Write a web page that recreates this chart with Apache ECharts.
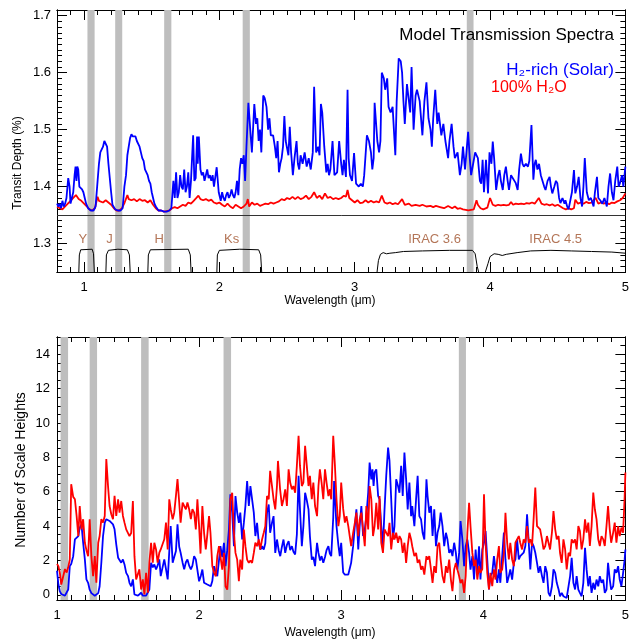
<!DOCTYPE html>
<html>
<head>
<meta charset="utf-8">
<script src="https://cdn.jsdelivr.net/npm/echarts@6/dist/echarts.min.js"></script>
<style>
  html, body { margin: 0; padding: 0; background: #fff; }
  #chart { width: 632px; height: 644px; }
</style>
</head>
<body>
<div id="chart"></div>
<script>
// --- top panel: transit depth (%) vs wavelength (um)
const topH2 = [[0.80,1.37],[0.81,1.365],[0.82,1.37],[0.83,1.362],[0.84,1.375],[0.85,1.365],[0.86,1.37],[0.87,1.38],[0.883,1.415],[0.893,1.40],[0.90,1.37],[0.91,1.372],[0.92,1.39],[0.93,1.42],[0.937,1.435],[0.944,1.41],[0.95,1.435],[0.957,1.43],[0.965,1.40],[0.975,1.40],[0.985,1.395],[0.995,1.39],[1.005,1.38],[1.015,1.37],[1.03,1.362],[1.05,1.358],[1.07,1.358],[1.085,1.365],[1.10,1.41],[1.11,1.44],[1.12,1.46],[1.13,1.458],[1.14,1.47],[1.15,1.48],[1.16,1.483],[1.17,1.47],[1.18,1.44],[1.19,1.415],[1.20,1.39],[1.21,1.368],[1.23,1.36],[1.25,1.358],[1.27,1.358],[1.285,1.362],[1.298,1.40],[1.31,1.42],[1.32,1.455],[1.33,1.47],[1.34,1.485],[1.35,1.492],[1.36,1.488],[1.37,1.49],[1.38,1.488],[1.39,1.48],[1.40,1.478],[1.41,1.47],[1.42,1.46],[1.43,1.45],[1.44,1.445],[1.45,1.43],[1.46,1.432],[1.47,1.42],[1.48,1.41],[1.49,1.405],[1.50,1.39],[1.51,1.38],[1.52,1.37],[1.53,1.365],[1.55,1.358],[1.57,1.358],[1.59,1.356],[1.61,1.356],[1.63,1.358],[1.645,1.362],[1.66,1.41],[1.67,1.38],[1.68,1.425],[1.69,1.38],[1.70,1.39],[1.71,1.42],[1.72,1.40],[1.73,1.395],[1.74,1.43],[1.75,1.39],[1.76,1.40],[1.77,1.425],[1.78,1.38],[1.79,1.41],[1.806,1.49],[1.815,1.41],[1.825,1.415],[1.835,1.488],[1.84,1.44],[1.848,1.488],[1.86,1.43],[1.87,1.42],[1.88,1.425],[1.89,1.41],[1.90,1.42],[1.91,1.43],[1.92,1.415],[1.93,1.42],[1.94,1.41],[1.95,1.42],[1.96,1.40],[1.98,1.434],[1.995,1.39],[2.01,1.375],[2.02,1.39],[2.03,1.38],[2.04,1.375],[2.05,1.385],[2.06,1.39],[2.07,1.38],[2.08,1.385],[2.09,1.395],[2.10,1.385],[2.11,1.38],[2.12,1.39],[2.13,1.41],[2.14,1.385],[2.15,1.43],[2.16,1.45],[2.17,1.44],[2.18,1.455],[2.19,1.41],[2.20,1.47],[2.214,1.547],[2.226,1.545],[2.24,1.46],[2.258,1.545],[2.27,1.51],[2.28,1.52],[2.29,1.48],[2.30,1.50],[2.31,1.46],[2.324,1.56],[2.335,1.555],[2.348,1.54],[2.36,1.50],[2.37,1.52],[2.38,1.49],[2.397,1.49],[2.41,1.47],[2.42,1.45],[2.43,1.48],[2.44,1.425],[2.45,1.44],[2.46,1.45],[2.47,1.47],[2.48,1.524],[2.49,1.48],[2.51,1.455],[2.52,1.505],[2.53,1.46],[2.543,1.42],[2.555,1.45],[2.57,1.48],[2.58,1.44],[2.59,1.43],[2.60,1.455],[2.615,1.44],[2.63,1.46],[2.645,1.435],[2.66,1.45],[2.675,1.43],[2.69,1.46],[2.70,1.575],[2.715,1.46],[2.73,1.47],[2.74,1.455],[2.75,1.545],[2.76,1.53],[2.775,1.47],[2.79,1.425],[2.80,1.44],[2.81,1.42],[2.82,1.43],[2.836,1.48],[2.85,1.42],[2.87,1.425],[2.885,1.48],[2.90,1.44],[2.91,1.42],[2.92,1.447],[2.935,1.417],[2.947,1.57],[2.955,1.45],[2.965,1.42],[2.98,1.41],[2.995,1.459],[3.01,1.405],[3.03,1.40],[3.045,1.405],[3.06,1.40],[3.07,1.42],[3.08,1.42],[3.09,1.49],[3.105,1.48],[3.12,1.46],[3.13,1.43],[3.14,1.45],[3.147,1.547],[3.167,1.48],[3.18,1.46],[3.19,1.48],[3.20,1.60],[3.215,1.59],[3.225,1.57],[3.24,1.59],[3.25,1.54],[3.265,1.53],[3.28,1.54],[3.30,1.455],[3.31,1.55],[3.325,1.625],[3.34,1.62],[3.35,1.60],[3.36,1.55],[3.37,1.51],[3.386,1.58],[3.40,1.58],[3.41,1.53],[3.42,1.61],[3.435,1.50],[3.45,1.56],[3.46,1.57],[3.48,1.55],[3.50,1.49],[3.515,1.55],[3.53,1.583],[3.545,1.52],[3.56,1.50],[3.57,1.47],[3.58,1.52],[3.595,1.57],[3.61,1.51],[3.62,1.53],[3.64,1.49],[3.655,1.51],[3.67,1.48],[3.69,1.45],[3.70,1.48],[3.716,1.51],[3.73,1.47],[3.74,1.45],[3.76,1.46],[3.777,1.42],[3.79,1.44],[3.80,1.47],[3.815,1.43],[3.838,1.496],[3.85,1.45],[3.86,1.42],[3.875,1.44],[3.89,1.46],[3.91,1.45],[3.925,1.41],[3.935,1.405],[3.945,1.447],[3.955,1.39],[3.97,1.447],[3.985,1.388],[3.996,1.46],[4.01,1.44],[4.02,1.479],[4.03,1.45],[4.045,1.394],[4.06,1.42],[4.07,1.429],[4.08,1.41],[4.094,1.394],[4.105,1.42],[4.117,1.435],[4.13,1.41],[4.14,1.394],[4.155,1.42],[4.167,1.423],[4.18,1.41],[4.19,1.406],[4.204,1.394],[4.215,1.43],[4.228,1.458],[4.24,1.44],[4.25,1.435],[4.265,1.44],[4.28,1.435],[4.29,1.445],[4.306,1.508],[4.32,1.412],[4.33,1.44],[4.338,1.447],[4.35,1.43],[4.362,1.44],[4.375,1.42],[4.387,1.423],[4.40,1.40],[4.41,1.394],[4.425,1.41],[4.44,1.417],[4.45,1.40],[4.46,1.388],[4.475,1.40],[4.487,1.41],[4.497,1.406],[4.51,1.38],[4.52,1.371],[4.535,1.38],[4.55,1.37],[4.557,1.376],[4.57,1.365],[4.58,1.36],[4.594,1.36],[4.605,1.39],[4.62,1.429],[4.63,1.388],[4.643,1.40],[4.655,1.417],[4.668,1.38],[4.68,1.365],[4.69,1.40],[4.70,1.45],[4.715,1.39],[4.73,1.376],[4.745,1.38],[4.765,1.365],[4.775,1.39],[4.79,1.417],[4.80,1.38],[4.814,1.376],[4.83,1.37],[4.845,1.38],[4.863,1.365],[4.875,1.40],[4.887,1.423],[4.90,1.39],[4.912,1.376],[4.925,1.41],[4.94,1.435],[4.95,1.40],[4.96,1.406],[4.975,1.42],[4.985,1.40],[5.0,1.435]];

const topH2O = [[0.80,1.365],[0.82,1.362],[0.84,1.36],[0.86,1.365],[0.88,1.37],[0.90,1.375],[0.92,1.38],[0.94,1.385],[0.95,1.382],[0.96,1.378],[0.98,1.375],[1.0,1.37],[1.02,1.365],[1.04,1.36],[1.06,1.358],[1.08,1.362],[1.10,1.382],[1.11,1.375],[1.12,1.378],[1.14,1.372],[1.16,1.376],[1.18,1.372],[1.20,1.368],[1.22,1.362],[1.24,1.358],[1.26,1.358],[1.28,1.362],[1.30,1.372],[1.32,1.385],[1.33,1.378],[1.35,1.376],[1.37,1.378],[1.39,1.374],[1.41,1.378],[1.43,1.375],[1.45,1.376],[1.47,1.372],[1.49,1.376],[1.51,1.368],[1.53,1.362],[1.55,1.358],[1.57,1.358],[1.59,1.356],[1.61,1.357],[1.63,1.358],[1.65,1.362],[1.67,1.364],[1.69,1.362],[1.71,1.365],[1.73,1.368],[1.75,1.366],[1.77,1.372],[1.79,1.37],[1.81,1.375],[1.83,1.38],[1.845,1.384],[1.86,1.378],[1.88,1.376],[1.90,1.378],[1.92,1.375],[1.94,1.377],[1.96,1.372],[1.98,1.37],[2.0,1.372],[2.02,1.368],[2.04,1.365],[2.06,1.37],[2.08,1.365],[2.10,1.362],[2.12,1.368],[2.14,1.365],[2.16,1.362],[2.18,1.365],[2.20,1.37],[2.21,1.378],[2.22,1.365],[2.24,1.372],[2.26,1.368],[2.28,1.37],[2.30,1.366],[2.32,1.368],[2.34,1.37],[2.36,1.369],[2.38,1.372],[2.40,1.37],[2.42,1.372],[2.44,1.374],[2.46,1.378],[2.48,1.376],[2.50,1.38],[2.52,1.378],[2.54,1.382],[2.56,1.378],[2.58,1.382],[2.60,1.378],[2.62,1.38],[2.64,1.384],[2.66,1.378],[2.68,1.382],[2.70,1.39],[2.72,1.38],[2.74,1.384],[2.76,1.378],[2.78,1.388],[2.80,1.38],[2.82,1.382],[2.84,1.378],[2.86,1.38],[2.88,1.378],[2.90,1.38],[2.92,1.384],[2.935,1.382],[2.947,1.394],[2.96,1.38],[2.98,1.376],[3.0,1.372],[3.02,1.376],[3.04,1.371],[3.06,1.372],[3.08,1.376],[3.10,1.372],[3.12,1.375],[3.14,1.372],[3.16,1.374],[3.18,1.372],[3.20,1.384],[3.22,1.372],[3.24,1.37],[3.26,1.372],[3.28,1.369],[3.30,1.371],[3.32,1.369],[3.35,1.378],[3.37,1.368],[3.40,1.37],[3.42,1.366],[3.45,1.368],[3.48,1.366],[3.50,1.368],[3.53,1.365],[3.56,1.366],[3.58,1.364],[3.60,1.366],[3.63,1.364],[3.66,1.362],[3.69,1.366],[3.72,1.362],[3.74,1.365],[3.76,1.361],[3.78,1.362],[3.80,1.36],[3.82,1.359],[3.84,1.358],[3.86,1.359],[3.88,1.36],[3.90,1.376],[3.91,1.368],[3.93,1.362],[3.95,1.36],[3.96,1.362],[3.98,1.363],[4.0,1.38],[4.02,1.368],[4.04,1.366],[4.06,1.368],[4.08,1.367],[4.10,1.368],[4.12,1.367],[4.14,1.368],[4.155,1.373],[4.17,1.368],[4.19,1.37],[4.21,1.369],[4.23,1.37],[4.25,1.369],[4.27,1.371],[4.29,1.37],[4.31,1.372],[4.33,1.37],[4.36,1.38],[4.38,1.37],[4.40,1.368],[4.42,1.369],[4.44,1.367],[4.46,1.369],[4.48,1.366],[4.50,1.368],[4.52,1.365],[4.54,1.362],[4.56,1.36],[4.58,1.362],[4.60,1.36],[4.62,1.362],[4.63,1.377],[4.65,1.37],[4.67,1.372],[4.69,1.37],[4.71,1.373],[4.73,1.371],[4.75,1.372],[4.78,1.38],[4.80,1.37],[4.82,1.372],[4.84,1.37],[4.86,1.372],[4.88,1.369],[4.90,1.372],[4.92,1.371],[4.94,1.374],[4.96,1.376],[4.98,1.38],[5.0,1.388]];

// filter transmission curves (drawn in transit-depth units, cut off at the axis bottom)
const filterY = [[0.955,1.2],[0.965,1.28],[0.975,1.289],[1.06,1.29],[1.07,1.282],[1.085,1.2]];
const filterJ = [[1.155,1.2],[1.165,1.28],[1.18,1.288],[1.25,1.29],[1.32,1.289],[1.335,1.28],[1.35,1.2]];
const filterH = [[1.465,1.2],[1.475,1.28],[1.49,1.289],[1.77,1.29],[1.785,1.28],[1.80,1.2]];
const filterKs = [[1.975,1.2],[1.985,1.28],[2.0,1.288],[2.15,1.29],[2.29,1.289],[2.305,1.28],[2.325,1.2]];
const filterIrac = [[3.14,1.2],[3.175,1.27],[3.19,1.281],[3.21,1.284],[3.235,1.282],[3.26,1.283],[3.30,1.284],[3.36,1.286],[3.5,1.287],[3.7,1.288],[3.87,1.288],[3.89,1.282],[3.905,1.26],[3.92,1.246],[3.96,1.246],[3.985,1.265],[4.0,1.277],[4.03,1.282],[4.06,1.281],[4.09,1.279],[4.12,1.281],[4.2,1.284],[4.3,1.287],[4.45,1.288],[4.6,1.287],[4.75,1.286],[4.9,1.285],[5.0,1.283]];
const filterNames = ['Y', 'J', 'H', 'Ks', 'IRAC 3.6', 'IRAC 4.5'];
const filterNameWl = [0.99, 1.188, 1.555, 2.09, 3.59, 4.485];
const filterNameDepth = 1.308;

const baselineDepth = 1.355;
const bands = [[1.025,1.078],[1.23,1.282],[1.592,1.645],[2.172,2.225],[3.828,3.878]];

// --- bottom panel: number of scale heights vs wavelength (um)
const botH2 = [[1.0,1.4],[1.01,0.6],[1.02,0.2],[1.03,0.05],[1.044,-0.05],[1.056,-0.05],[1.068,0.0],[1.079,0.31],[1.09,1.67],[1.10,1.8],[1.114,2.25],[1.126,3.23],[1.138,3.3],[1.15,3.42],[1.16,3.91],[1.172,4.1],[1.184,3.03],[1.196,2.06],[1.207,0.9],[1.219,0.7],[1.23,0.3],[1.242,0.1],[1.254,0.0],[1.266,-0.05],[1.277,0.0],[1.29,0.1],[1.30,0.5],[1.312,1.87],[1.324,3.42],[1.336,4.2],[1.347,4.4],[1.359,4.4],[1.37,4.3],[1.382,4.3],[1.394,4.1],[1.405,3.81],[1.417,2.94],[1.43,2.16],[1.44,2.06],[1.452,1.87],[1.464,2.06],[1.475,1.77],[1.487,1.28],[1.50,1.09],[1.51,0.7],[1.522,0.5],[1.534,0.9],[1.545,0.02],[1.557,-0.05],[1.57,-0.05],[1.58,-0.05],[1.592,0.12],[1.604,-0.05],[1.615,-0.05],[1.627,-0.05],[1.64,0.02],[1.65,0.31],[1.662,1.87],[1.674,1.6],[1.685,1.77],[1.697,1.48],[1.708,1.7],[1.72,2.06],[1.73,1.09],[1.743,1.6],[1.755,2.06],[1.767,1.5],[1.779,0.9],[1.79,2.5],[1.80,4.0],[1.814,1.87],[1.825,2.2],[1.837,2.55],[1.848,4.1],[1.86,2.8],[1.87,2.45],[1.884,1.87],[1.895,1.48],[1.907,1.9],[1.918,2.06],[1.93,1.7],[1.942,1.48],[1.953,1.7],[1.965,2.25],[1.977,2.06],[1.988,2.06],[2.0,0.79],[2.012,1.1],[2.023,1.47],[2.035,0.7],[2.047,0.8],[2.058,0.6],[2.07,0.7],[2.082,0.5],[2.093,0.8],[2.105,1.67],[2.117,1.3],[2.128,1.08],[2.14,2.0],[2.15,2.83],[2.163,2.2],[2.175,3.03],[2.186,1.67],[2.198,2.6],[2.21,3.8],[2.22,5.85],[2.233,4.78],[2.245,2.83],[2.256,5.75],[2.268,4.8],[2.28,4.19],[2.29,4.78],[2.303,3.22],[2.315,4.2],[2.326,5.17],[2.338,6.62],[2.35,5.17],[2.361,6.33],[2.373,6.33],[2.385,4.78],[2.396,3.42],[2.408,4.19],[2.42,3.03],[2.431,2.64],[2.443,2.83],[2.455,2.64],[2.466,3.0],[2.478,4.78],[2.49,5.26],[2.5,3.61],[2.513,4.19],[2.524,4.58],[2.536,2.44],[2.548,3.22],[2.56,2.6],[2.571,2.25],[2.583,2.8],[2.594,3.22],[2.606,2.44],[2.618,2.9],[2.63,3.12],[2.641,2.6],[2.653,2.83],[2.664,2.5],[2.676,2.35],[2.688,3.5],[2.70,6.92],[2.71,4.97],[2.723,2.83],[2.734,4.0],[2.746,5.94],[2.758,5.5],[2.77,4.97],[2.78,3.4],[2.793,2.05],[2.804,2.2],[2.816,1.67],[2.83,3.03],[2.84,2.44],[2.851,2.0],[2.862,2.25],[2.874,1.86],[2.886,2.2],[2.897,2.6],[2.91,2.83],[2.92,2.4],[2.93,2.25],[2.944,4.5],[2.95,6.62],[2.967,4.0],[2.98,2.9],[2.99,2.25],[3.0,3.03],[3.014,1.3],[3.026,1.18],[3.037,1.08],[3.05,1.18],[3.06,1.28],[3.07,1.86],[3.084,2.83],[3.096,4.0],[3.107,4.97],[3.12,2.64],[3.13,4.0],[3.142,5.17],[3.154,3.42],[3.166,3.8],[3.177,4.58],[3.19,5.94],[3.2,7.69],[3.212,6.72],[3.22,7.3],[3.228,6.33],[3.235,7.11],[3.247,7.3],[3.26,5.75],[3.27,5.56],[3.282,4.0],[3.294,2.83],[3.305,4.97],[3.317,6.92],[3.33,8.57],[3.34,7.79],[3.352,5.56],[3.364,3.22],[3.375,4.0],[3.387,6.72],[3.4,6.33],[3.41,5.94],[3.422,7.5],[3.433,5.75],[3.445,8.28],[3.457,6.72],[3.468,4.97],[3.48,6.53],[3.492,4.58],[3.5,5.17],[3.515,4.0],[3.527,5.56],[3.538,6.92],[3.55,4.58],[3.562,4.39],[3.573,3.61],[3.585,3.22],[3.6,6.72],[3.608,5.75],[3.62,4.78],[3.632,5.17],[3.643,3.42],[3.655,4.97],[3.667,2.83],[3.678,3.61],[3.69,4.0],[3.7,4.78],[3.713,4.0],[3.725,2.83],[3.737,3.61],[3.748,3.22],[3.76,2.44],[3.772,2.64],[3.783,2.25],[3.795,3.03],[3.807,2.44],[3.818,1.47],[3.83,2.44],[3.84,4.29],[3.853,3.22],[3.865,1.67],[3.876,2.83],[3.888,3.22],[3.9,2.44],[3.91,1.47],[3.923,2.25],[3.935,0.89],[3.946,2.64],[3.958,1.28],[3.97,2.83],[3.98,0.89],[3.993,2.64],[4.005,3.03],[4.016,3.71],[4.028,2.06],[4.04,0.31],[4.05,1.09],[4.063,1.28],[4.075,2.25],[4.086,1.48],[4.098,0.7],[4.11,1.48],[4.12,0.7],[4.133,2.25],[4.145,3.62],[4.156,2.06],[4.168,0.7],[4.18,1.09],[4.19,1.48],[4.203,0.89],[4.215,1.86],[4.226,2.06],[4.238,3.23],[4.25,2.06],[4.26,2.25],[4.273,2.25],[4.284,2.45],[4.296,2.84],[4.308,4.68],[4.32,3.03],[4.331,1.48],[4.343,3.03],[4.354,2.84],[4.366,2.45],[4.378,1.86],[4.389,1.28],[4.4,1.67],[4.413,1.09],[4.424,0.7],[4.436,1.67],[4.448,1.28],[4.459,0.11],[4.47,-0.08],[4.483,0.5],[4.494,1.48],[4.506,1.28],[4.517,0.7],[4.53,0.31],[4.54,-0.08],[4.552,0.11],[4.564,-0.08],[4.576,-0.08],[4.587,-0.18],[4.6,-0.08],[4.611,1.09],[4.622,2.16],[4.634,0.7],[4.646,0.31],[4.657,1.09],[4.669,0.31],[4.68,0.11],[4.692,-0.08],[4.704,0.7],[4.716,2.74],[4.727,1.48],[4.739,0.5],[4.75,1.09],[4.762,0.11],[4.774,0.7],[4.785,0.31],[4.797,0.89],[4.809,0.5],[4.82,1.09],[4.832,0.7],[4.844,0.89],[4.855,0.11],[4.867,0.31],[4.878,1.86],[4.89,0.89],[4.9,0.31],[4.914,0.5],[4.925,1.48],[4.937,1.28],[4.949,1.67],[4.96,0.89],[4.972,0.5],[4.984,1.28],[4.995,2.06],[5.0,2.64]];

const botH2O = [[1.0,1.8],[1.01,1.67],[1.02,1.28],[1.03,0.6],[1.044,0.6],[1.056,1.5],[1.068,1.3],[1.079,1.6],[1.09,2.06],[1.10,6.44],[1.114,5.7],[1.126,5.56],[1.138,4.59],[1.15,3.42],[1.16,5.17],[1.172,3.81],[1.184,4.4],[1.196,3.03],[1.207,2.6],[1.219,2.25],[1.23,4.4],[1.242,2.25],[1.254,1.09],[1.266,2.25],[1.277,0.7],[1.29,3.03],[1.30,3.42],[1.312,4.4],[1.324,4.2],[1.336,4.59],[1.347,7.9],[1.359,6.34],[1.37,5.17],[1.382,4.69],[1.394,4.4],[1.405,5.76],[1.417,4.59],[1.43,5.56],[1.44,4.78],[1.452,5.46],[1.464,4.59],[1.475,4.2],[1.487,3.81],[1.50,3.81],[1.51,3.42],[1.522,3.6],[1.534,5.46],[1.545,2.25],[1.557,0.9],[1.57,0.9],[1.58,1.48],[1.592,0.31],[1.604,0.9],[1.615,0.02],[1.627,1.28],[1.64,0.12],[1.65,1.87],[1.662,3.03],[1.674,1.87],[1.685,3.03],[1.697,2.64],[1.708,1.87],[1.72,2.45],[1.73,2.64],[1.743,2.64],[1.755,3.23],[1.767,4.2],[1.779,2.64],[1.79,5.56],[1.80,4.98],[1.814,4.4],[1.825,4.78],[1.837,5.76],[1.848,6.73],[1.86,5.37],[1.87,4.2],[1.884,5.37],[1.895,5.17],[1.907,4.98],[1.918,5.37],[1.93,4.98],[1.942,4.4],[1.953,4.98],[1.965,4.78],[1.977,3.81],[1.988,5.56],[2.0,4.0],[2.01,2.4],[2.023,5.17],[2.035,3.61],[2.047,2.64],[2.058,3.5],[2.07,4.58],[2.08,3.61],[2.093,1.67],[2.105,1.3],[2.117,1.08],[2.128,2.25],[2.14,2.83],[2.15,2.25],[2.163,1.47],[2.175,2.44],[2.186,0.5],[2.198,0.3],[2.21,1.67],[2.22,5.56],[2.233,5.94],[2.245,3.61],[2.256,2.44],[2.268,2.05],[2.28,0.79],[2.29,2.05],[2.303,1.47],[2.315,3.8],[2.326,2.83],[2.338,2.05],[2.35,1.86],[2.361,2.0],[2.373,1.86],[2.385,2.44],[2.396,3.03],[2.408,2.83],[2.42,3.22],[2.43,2.64],[2.443,3.22],[2.455,3.61],[2.466,4.0],[2.478,5.75],[2.49,5.56],[2.5,7.21],[2.513,6.33],[2.524,5.56],[2.536,4.97],[2.548,6.33],[2.555,7.79],[2.57,6.14],[2.583,5.17],[2.594,5.56],[2.606,6.14],[2.618,5.17],[2.63,7.3],[2.641,6.53],[2.653,6.14],[2.664,6.33],[2.676,5.94],[2.688,7.5],[2.70,9.25],[2.71,7.5],[2.723,6.33],[2.734,6.53],[2.746,8.67],[2.758,7.5],[2.77,6.33],[2.78,6.92],[2.793,5.56],[2.804,6.53],[2.816,5.17],[2.83,4.58],[2.84,6.33],[2.85,7.3],[2.862,6.53],[2.874,5.56],[2.886,7.3],[2.897,6.53],[2.91,5.75],[2.92,6.14],[2.93,5.56],[2.944,9.25],[2.956,7.5],[2.967,5.56],[2.98,4.0],[2.99,4.58],[3.0,6.53],[3.014,5.0],[3.026,4.2],[3.037,4.58],[3.05,4.0],[3.06,3.42],[3.07,2.83],[3.084,3.61],[3.096,4.19],[3.107,4.78],[3.12,3.42],[3.13,4.39],[3.142,4.78],[3.154,3.8],[3.166,2.83],[3.177,5.17],[3.19,3.8],[3.2,6.33],[3.212,5.56],[3.224,3.42],[3.235,4.0],[3.247,5.36],[3.26,3.8],[3.27,5.75],[3.282,3.03],[3.294,2.44],[3.305,3.8],[3.317,3.61],[3.33,3.42],[3.34,4.19],[3.352,2.64],[3.364,3.61],[3.375,3.22],[3.387,3.61],[3.4,3.03],[3.41,3.42],[3.422,3.22],[3.433,2.44],[3.445,3.03],[3.457,1.86],[3.468,2.83],[3.48,3.61],[3.492,3.22],[3.5,2.83],[3.515,2.25],[3.527,2.44],[3.538,1.86],[3.55,2.05],[3.562,1.47],[3.573,1.67],[3.585,1.18],[3.6,2.25],[3.608,2.05],[3.62,2.25],[3.632,1.47],[3.643,0.69],[3.655,1.67],[3.667,1.28],[3.678,2.83],[3.69,3.03],[3.7,2.05],[3.713,1.08],[3.725,0.69],[3.737,1.67],[3.748,1.28],[3.76,2.05],[3.772,0.89],[3.783,0.21],[3.795,1.47],[3.807,1.86],[3.818,1.47],[3.83,1.08],[3.84,0.69],[3.853,0.89],[3.865,0.11],[3.876,1.08],[3.888,3.61],[3.9,5.36],[3.91,4.0],[3.923,2.44],[3.935,1.67],[3.946,2.05],[3.958,0.89],[3.97,1.67],[3.98,1.28],[3.993,1.5],[4.005,5.85],[4.016,3.0],[4.028,1.28],[4.04,0.31],[4.05,1.28],[4.063,0.5],[4.075,1.48],[4.086,0.89],[4.098,2.06],[4.11,2.84],[4.12,1.28],[4.133,1.48],[4.145,2.45],[4.156,4.78],[4.168,3.03],[4.18,2.06],[4.19,3.03],[4.203,2.06],[4.215,1.67],[4.226,3.03],[4.238,3.23],[4.25,3.42],[4.26,3.03],[4.273,2.64],[4.284,3.23],[4.296,3.03],[4.308,4.0],[4.32,3.03],[4.331,3.23],[4.343,2.84],[4.354,4.39],[4.366,6.24],[4.378,4.0],[4.389,4.1],[4.4,3.81],[4.413,3.23],[4.424,2.64],[4.436,2.84],[4.448,3.42],[4.459,3.03],[4.47,2.64],[4.483,3.62],[4.494,4.88],[4.506,3.81],[4.517,3.23],[4.53,3.42],[4.54,2.45],[4.552,1.86],[4.564,3.23],[4.576,2.64],[4.587,1.48],[4.6,2.45],[4.611,2.25],[4.622,3.23],[4.634,3.03],[4.646,3.23],[4.657,2.64],[4.669,4.0],[4.68,3.71],[4.692,2.64],[4.704,3.23],[4.716,4.39],[4.727,3.62],[4.739,4.2],[4.75,2.84],[4.762,4.0],[4.774,5.95],[4.785,4.98],[4.797,4.39],[4.809,3.23],[4.82,2.84],[4.832,3.42],[4.844,3.23],[4.855,2.84],[4.867,4.0],[4.878,5.17],[4.89,3.81],[4.9,3.03],[4.914,3.62],[4.925,4.2],[4.937,3.03],[4.949,4.0],[4.96,3.42],[4.972,3.91],[4.984,3.62],[4.995,5.75],[5.0,7.12]];

// tick values
const topXTicks = [1, 2, 3, 4, 5];
const topYTicks = [1.3, 1.4, 1.5, 1.6, 1.7];
const botXTicks = [1, 2, 3, 4, 5];
const botYTicks = [0, 2, 4, 6, 8, 10, 12, 14];

const topXMinor = [], topYMinor = [], botXMinor = [], botYMinor = [];
for (let i = 8; i <= 50; i++) if (i % 10) topXMinor.push(i / 10);
for (let i = 126; i <= 171; i++) if (i % 10) topYMinor.push(i / 100);
for (let i = 10; i <= 50; i++) if (i % 10) botXMinor.push(i / 10);
for (let i = 0; i <= 30; i++) if (i % 4) botYMinor.push(i / 2);

const FONT = 'Liberation Sans';
const BLUE = '#0000ff', RED = '#ff0000', BROWN = '#a0522d';

function ax(gridIndex, position, min, max, ticks, len, labelFmt, margin) {
  return {
    type: 'value', gridIndex, position, min, max,
    axisLine: { show: true, onZero: false, lineStyle: { color: '#000', width: 1 } },
    axisTick: { show: true, inside: true, length: len, customValues: ticks, lineStyle: { color: '#000', width: 1 } },
    axisLabel: labelFmt ? { show: true, customValues: ticks, formatter: labelFmt, color: '#000', fontFamily: FONT, fontSize: 13, margin } : { show: false },
    splitLine: { show: false }
  };
}
const intFmt = v => String(Math.round(v));
const oneFmt = v => v.toFixed(1);

const xAxis = [
  ax(0, 'bottom', 0.8, 5, topXTicks, 10, intFmt, 9),
  ax(0, 'bottom', 0.8, 5, topXMinor, 5),
  ax(0, 'top', 0.8, 5, topXTicks, 10),
  ax(0, 'top', 0.8, 5, topXMinor, 5),
  ax(1, 'bottom', 1, 5, botXTicks, 10, intFmt, 9),
  ax(1, 'bottom', 1, 5, botXMinor, 5),
  ax(1, 'top', 1, 5, botXTicks, 10),
  ax(1, 'top', 1, 5, botXMinor, 5)
];
const yAxis = [
  ax(0, 'left', 1.25, 1.71, topYTicks, 10, oneFmt, 6),
  ax(0, 'left', 1.25, 1.71, topYMinor, 5),
  ax(0, 'right', 1.25, 1.71, topYTicks, 10),
  ax(0, 'right', 1.25, 1.71, topYMinor, 5),
  ax(1, 'left', -0.3, 15, botYTicks, 10, intFmt, 7),
  ax(1, 'left', -0.3, 15, botYMinor, 5),
  ax(1, 'right', -0.3, 15, botYTicks, 10),
  ax(1, 'right', -0.3, 15, botYMinor, 5)
];

function spec(data, color, xi, z) {
  return { type: 'line', xAxisIndex: xi, yAxisIndex: xi, data, showSymbol: false, silent: true,
           lineStyle: { color, width: 1.8 }, z };
}
function filt(data) {
  return { type: 'line', xAxisIndex: 0, yAxisIndex: 0, data, showSymbol: false, silent: true,
           lineStyle: { color: '#000', width: 1 }, z: 2 };
}
function bandSeries(xi) {
  return { type: 'line', xAxisIndex: xi, yAxisIndex: xi, data: [], z: 1,
           markArea: { silent: true, itemStyle: { color: '#bebebe' },
                       data: bands.map(b => [{ xAxis: b[0] }, { xAxis: b[1] }]) } };
}

const series = [
  bandSeries(0),
  bandSeries(4),
  { type: 'line', xAxisIndex: 0, yAxisIndex: 0, data: [], z: 2,
    markLine: { silent: true, symbol: 'none', label: { show: false },
                lineStyle: { color: '#333', width: 1, type: 'solid' },
                data: [{ yAxis: baselineDepth }] } },
  filt(filterY), filt(filterJ), filt(filterH), filt(filterKs), filt(filterIrac),
  { type: 'scatter', xAxisIndex: 0, yAxisIndex: 0, symbolSize: 0, silent: true, z: 4,
    data: filterNames.map((n, i) => ({ name: n, value: [filterNameWl[i], filterNameDepth] })),
    label: { show: true, position: 'inside', formatter: '{b}', color: BROWN, fontFamily: FONT, fontSize: 13 } },
  spec(topH2O, RED, 0, 3),
  spec(topH2, BLUE, 0, 3),
  spec(botH2, BLUE, 4, 3),
  spec(botH2O, RED, 4, 3)
];

const txt = (t, x, y, size) => ({ type: 'text', x, y, silent: true, z: 100,
  style: { text: t, fill: '#000', font: (size || 12) + 'px "Liberation Sans"', align: 'center', verticalAlign: 'middle' } });

const graphic = [
  { type: 'text', right: 18, top: 27, z: 100, silent: true, style: { text: 'Model Transmission Spectra', fill: '#000', font: '17px "Liberation Sans"' } },
  { type: 'text', right: 18, top: 62, z: 100, silent: true, style: { text: 'H₂-rich (Solar)', fill: BLUE, font: '17px "Liberation Sans"' } },
  { type: 'text', left: 491, top: 80, z: 100, silent: true, style: { text: '100% H₂O', fill: RED, font: '16px "Liberation Sans"' } },
  Object.assign(txt('Transit Depth (%)', 0, 0, 12), { x: 18, y: 163, rotation: Math.PI / 2 }),
  txt('Wavelength (μm)', 330, 301, 12),
  Object.assign(txt('Number of Scale Heights', 0, 0, 14), { x: 21, y: 470, rotation: Math.PI / 2 }),
  txt('Wavelength (μm)', 330, 633, 12)
];

const chart = echarts.init(document.getElementById('chart'), null, { renderer: 'canvas' });
chart.setOption({
  animation: false,
  backgroundColor: '#fff',
  grid: [
    { left: 57, top: 10, width: 572, height: 262 },
    { left: 57, top: 337, width: 572, height: 263 }
  ],
  xAxis, yAxis, series, graphic
});
</script>
</body>
</html>
